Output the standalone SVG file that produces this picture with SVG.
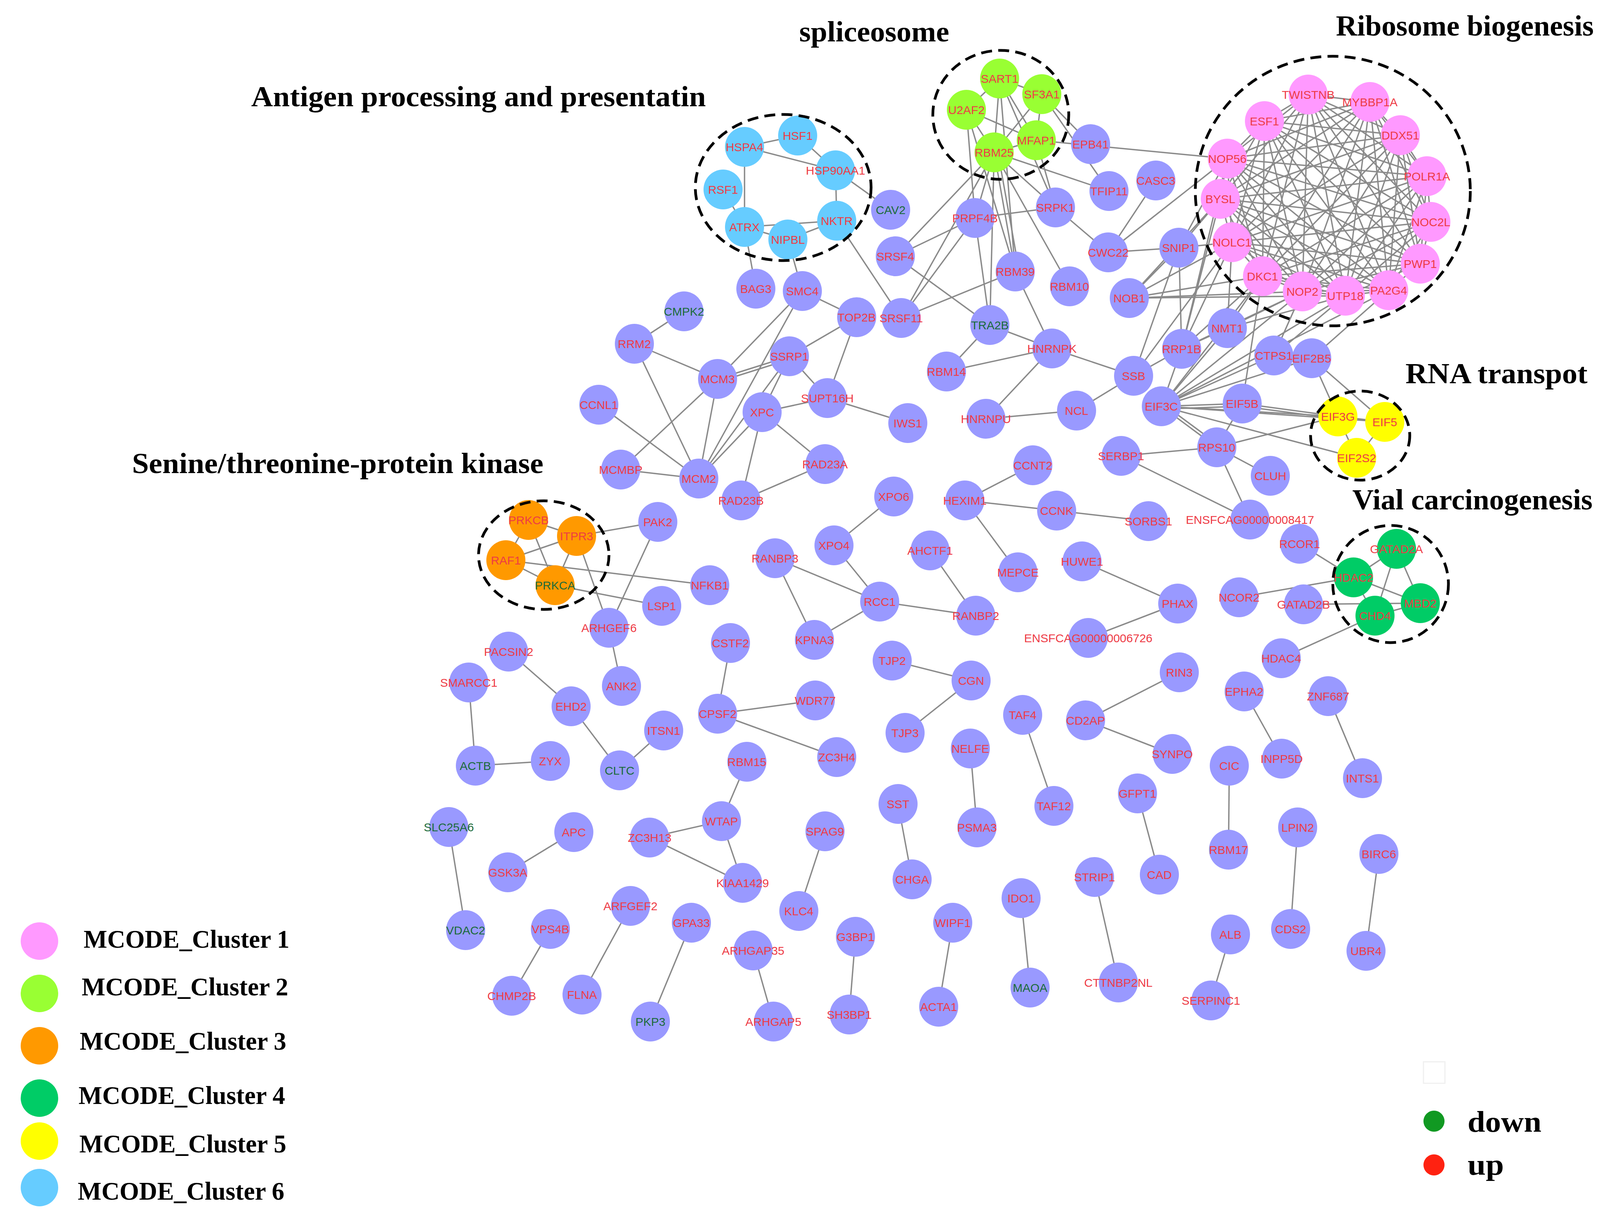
<svg xmlns="http://www.w3.org/2000/svg" width="4292" height="3123" viewBox="0 0 4292 3123">
<style>
.e line{stroke:#8a8a8a;stroke-width:3.5}
ellipse{stroke:none}
.n{fill:#9999FF}.c1{fill:#FF99FF}.c2{fill:#99FF33}.c3{fill:#FF9900}.c4{fill:#00CC66}.c5{fill:#FFFF00}.c6{fill:#66CCFF}
text.t{font-family:'Liberation Sans',Arial,sans-serif;font-size:30px;fill:#EE3B45;text-anchor:middle}
text.g{fill:#1B6B3A}
.d{fill:none;stroke:#000;stroke-width:7;stroke-dasharray:28 16}
.h{font-family:'Liberation Serif','Times New Roman',serif;font-weight:bold;fill:#000}
</style>
<rect width="4292" height="3123" fill="#fff"/>
<g id="titles">
<text class="h" x="643" y="272" font-size="74" textLength="1164" lengthAdjust="spacingAndGlyphs">Antigen processing and presentatin</text>
<text class="h" x="2046" y="106" font-size="74" textLength="384" lengthAdjust="spacingAndGlyphs">spliceosome</text>
<text class="h" x="3420" y="91" font-size="74" textLength="660" lengthAdjust="spacingAndGlyphs">Ribosome biogenesis</text>
<text class="h" x="338" y="1211" font-size="74" textLength="1053" lengthAdjust="spacingAndGlyphs">Senine/threonine-protein kinase</text>
<text class="h" x="3598" y="981" font-size="74" textLength="466" lengthAdjust="spacingAndGlyphs">RNA transpot</text>
<text class="h" x="3462" y="1304" font-size="74" textLength="615" lengthAdjust="spacingAndGlyphs">Vial carcinogenesis</text>
</g>
<g class="e" id="connectors">
<line x1="3349" y1="242" x2="3507" y2="261"/><line x1="3349" y1="242" x2="3237" y2="310"/><line x1="3349" y1="242" x2="3585" y2="346"/><line x1="3349" y1="242" x2="3142" y2="406"/><line x1="3349" y1="242" x2="3653" y2="451"/><line x1="3349" y1="242" x2="3124" y2="509"/><line x1="3349" y1="242" x2="3663" y2="568"/><line x1="3349" y1="242" x2="3154" y2="620"/><line x1="3349" y1="242" x2="3636" y2="675"/><line x1="3349" y1="242" x2="3232" y2="707"/><line x1="3349" y1="242" x2="3334" y2="746"/><line x1="3349" y1="242" x2="3444" y2="757"/><line x1="3349" y1="242" x2="3555" y2="743"/>
<line x1="3507" y1="261" x2="3237" y2="310"/><line x1="3507" y1="261" x2="3585" y2="346"/><line x1="3507" y1="261" x2="3142" y2="406"/><line x1="3507" y1="261" x2="3653" y2="451"/><line x1="3507" y1="261" x2="3124" y2="509"/><line x1="3507" y1="261" x2="3663" y2="568"/><line x1="3507" y1="261" x2="3154" y2="620"/><line x1="3507" y1="261" x2="3636" y2="675"/><line x1="3507" y1="261" x2="3232" y2="707"/><line x1="3507" y1="261" x2="3334" y2="746"/><line x1="3507" y1="261" x2="3444" y2="757"/><line x1="3507" y1="261" x2="3555" y2="743"/>
<line x1="3237" y1="310" x2="3585" y2="346"/><line x1="3237" y1="310" x2="3142" y2="406"/><line x1="3237" y1="310" x2="3653" y2="451"/><line x1="3237" y1="310" x2="3124" y2="509"/><line x1="3237" y1="310" x2="3663" y2="568"/><line x1="3237" y1="310" x2="3154" y2="620"/><line x1="3237" y1="310" x2="3636" y2="675"/><line x1="3237" y1="310" x2="3232" y2="707"/><line x1="3237" y1="310" x2="3334" y2="746"/><line x1="3237" y1="310" x2="3444" y2="757"/><line x1="3237" y1="310" x2="3555" y2="743"/>
<line x1="3585" y1="346" x2="3142" y2="406"/><line x1="3585" y1="346" x2="3653" y2="451"/><line x1="3585" y1="346" x2="3124" y2="509"/><line x1="3585" y1="346" x2="3663" y2="568"/><line x1="3585" y1="346" x2="3154" y2="620"/><line x1="3585" y1="346" x2="3636" y2="675"/><line x1="3585" y1="346" x2="3232" y2="707"/><line x1="3585" y1="346" x2="3334" y2="746"/><line x1="3585" y1="346" x2="3444" y2="757"/><line x1="3585" y1="346" x2="3555" y2="743"/>
<line x1="3142" y1="406" x2="3653" y2="451"/><line x1="3142" y1="406" x2="3124" y2="509"/><line x1="3142" y1="406" x2="3663" y2="568"/><line x1="3142" y1="406" x2="3154" y2="620"/><line x1="3142" y1="406" x2="3636" y2="675"/><line x1="3142" y1="406" x2="3232" y2="707"/><line x1="3142" y1="406" x2="3334" y2="746"/><line x1="3142" y1="406" x2="3444" y2="757"/><line x1="3142" y1="406" x2="3555" y2="743"/>
<line x1="3653" y1="451" x2="3124" y2="509"/><line x1="3653" y1="451" x2="3663" y2="568"/><line x1="3653" y1="451" x2="3154" y2="620"/><line x1="3653" y1="451" x2="3636" y2="675"/><line x1="3653" y1="451" x2="3232" y2="707"/><line x1="3653" y1="451" x2="3334" y2="746"/><line x1="3653" y1="451" x2="3444" y2="757"/><line x1="3653" y1="451" x2="3555" y2="743"/>
<line x1="3124" y1="509" x2="3663" y2="568"/><line x1="3124" y1="509" x2="3154" y2="620"/><line x1="3124" y1="509" x2="3636" y2="675"/><line x1="3124" y1="509" x2="3232" y2="707"/><line x1="3124" y1="509" x2="3334" y2="746"/><line x1="3124" y1="509" x2="3444" y2="757"/><line x1="3124" y1="509" x2="3555" y2="743"/>
<line x1="3663" y1="568" x2="3154" y2="620"/><line x1="3663" y1="568" x2="3636" y2="675"/><line x1="3663" y1="568" x2="3232" y2="707"/><line x1="3663" y1="568" x2="3334" y2="746"/><line x1="3663" y1="568" x2="3444" y2="757"/><line x1="3663" y1="568" x2="3555" y2="743"/>
<line x1="3154" y1="620" x2="3636" y2="675"/><line x1="3154" y1="620" x2="3232" y2="707"/><line x1="3154" y1="620" x2="3334" y2="746"/><line x1="3154" y1="620" x2="3444" y2="757"/><line x1="3154" y1="620" x2="3555" y2="743"/>
<line x1="3636" y1="675" x2="3232" y2="707"/><line x1="3636" y1="675" x2="3334" y2="746"/><line x1="3636" y1="675" x2="3444" y2="757"/><line x1="3636" y1="675" x2="3555" y2="743"/>
<line x1="3232" y1="707" x2="3334" y2="746"/><line x1="3232" y1="707" x2="3444" y2="757"/><line x1="3232" y1="707" x2="3555" y2="743"/>
<line x1="3334" y1="746" x2="3444" y2="757"/><line x1="3334" y1="746" x2="3555" y2="743"/><line x1="3444" y1="757" x2="3555" y2="743"/>
<line x1="1906" y1="376" x2="2042" y2="347"/><line x1="1906" y1="376" x2="2139" y2="436"/><line x1="2042" y1="347" x2="2139" y2="436"/><line x1="1906" y1="376" x2="1906" y2="581"/><line x1="2139" y1="436" x2="2142" y2="565"/><line x1="1851" y1="485" x2="1906" y2="581"/><line x1="1906" y1="581" x2="2017" y2="613"/><line x1="1906" y1="581" x2="2142" y2="565"/><line x1="2017" y1="613" x2="2142" y2="565"/><line x1="1906" y1="581" x2="1935" y2="739"/><line x1="2017" y1="613" x2="2054" y2="745"/><line x1="2139" y1="436" x2="2280" y2="537"/><line x1="2142" y1="565" x2="2307" y2="814"/>
<line x1="2559" y1="201" x2="2667" y2="241"/><line x1="2559" y1="201" x2="2474" y2="281"/><line x1="2559" y1="201" x2="2545" y2="390"/><line x1="2559" y1="201" x2="2653" y2="359"/><line x1="2559" y1="201" x2="2702" y2="531"/><line x1="2559" y1="201" x2="2599" y2="695"/><line x1="2474" y1="281" x2="2545" y2="390"/><line x1="2474" y1="281" x2="2653" y2="359"/><line x1="2474" y1="281" x2="2496" y2="558"/><line x1="2474" y1="281" x2="2599" y2="695"/><line x1="2545" y1="390" x2="2653" y2="359"/><line x1="2667" y1="241" x2="2653" y2="359"/><line x1="2667" y1="241" x2="2545" y2="390"/><line x1="2667" y1="241" x2="2792" y2="369"/><line x1="2667" y1="241" x2="2839" y2="489"/>
<line x1="2545" y1="390" x2="2496" y2="558"/><line x1="2545" y1="390" x2="2599" y2="695"/><line x1="2555" y1="392" x2="2609" y2="693"/><line x1="2545" y1="390" x2="2292" y2="656"/><line x1="2545" y1="390" x2="2307" y2="814"/><line x1="2545" y1="390" x2="2534" y2="832"/><line x1="2545" y1="390" x2="2702" y2="531"/><line x1="2545" y1="390" x2="2839" y2="489"/><line x1="2545" y1="390" x2="2738" y2="733"/><line x1="2653" y1="359" x2="2702" y2="531"/><line x1="2653" y1="359" x2="3142" y2="406"/>
<line x1="2496" y1="558" x2="2292" y2="656"/><line x1="2496" y1="558" x2="2702" y2="531"/><line x1="2496" y1="558" x2="2534" y2="832"/><line x1="2496" y1="558" x2="2307" y2="814"/><line x1="2702" y1="531" x2="2837" y2="646"/><line x1="2959" y1="462" x2="2837" y2="646"/><line x1="2837" y1="646" x2="3018" y2="634"/><line x1="2837" y1="646" x2="3142" y2="406"/><line x1="2292" y1="656" x2="2534" y2="832"/><line x1="2307" y1="814" x2="2599" y2="695"/><line x1="2599" y1="695" x2="2693" y2="892"/><line x1="2534" y1="832" x2="2693" y2="892"/><line x1="2534" y1="832" x2="2423" y2="951"/><line x1="2693" y1="892" x2="2423" y2="951"/><line x1="2693" y1="892" x2="2524" y2="1072"/><line x1="2693" y1="892" x2="2902" y2="962"/><line x1="2756" y1="1051" x2="2902" y2="962"/><line x1="2756" y1="1051" x2="2524" y2="1072"/><line x1="2902" y1="962" x2="3025" y2="893"/><line x1="2902" y1="962" x2="3018" y2="634"/><line x1="2902" y1="962" x2="3154" y2="620"/>
<line x1="2891" y1="763" x2="3124" y2="509"/><line x1="2891" y1="763" x2="3154" y2="620"/><line x1="2891" y1="763" x2="3232" y2="707"/><line x1="2891" y1="763" x2="3334" y2="746"/><line x1="2891" y1="763" x2="3444" y2="757"/><line x1="2891" y1="763" x2="3018" y2="634"/>
<line x1="3018" y1="634" x2="3124" y2="509"/><line x1="3018" y1="634" x2="3142" y2="406"/><line x1="3018" y1="634" x2="3154" y2="620"/>
<line x1="3025" y1="893" x2="3018" y2="634"/><line x1="3025" y1="893" x2="3124" y2="509"/><line x1="3025" y1="893" x2="3154" y2="620"/><line x1="3025" y1="893" x2="3142" y2="406"/><line x1="3025" y1="893" x2="3142" y2="840"/><line x1="3025" y1="893" x2="3232" y2="707"/><line x1="3025" y1="893" x2="3334" y2="746"/>
<line x1="3142" y1="840" x2="3334" y2="746"/><line x1="3142" y1="840" x2="3232" y2="707"/><line x1="3142" y1="840" x2="3154" y2="620"/><line x1="3142" y1="840" x2="3444" y2="757"/>
<line x1="2973" y1="1040" x2="3142" y2="840"/><line x1="2973" y1="1040" x2="3025" y2="893"/><line x1="2973" y1="1040" x2="3334" y2="746"/><line x1="2973" y1="1040" x2="3444" y2="757"/><line x1="2973" y1="1040" x2="3555" y2="743"/><line x1="2973" y1="1040" x2="3232" y2="707"/><line x1="2973" y1="1040" x2="3261" y2="910"/><line x1="2973" y1="1040" x2="3358" y2="917"/>
<line x1="2973" y1="1040" x2="3180" y2="1033"/><line x1="2973" y1="1047" x2="3180" y2="1040"/><line x1="2973" y1="1040" x2="3425" y2="1066"/><line x1="2973" y1="1040" x2="3545" y2="1080"/><line x1="2973" y1="1040" x2="3473" y2="1172"/><line x1="2973" y1="1040" x2="3115" y2="1145"/><line x1="2980" y1="1036" x2="3122" y2="1141"/>
<line x1="3334" y1="746" x2="3261" y2="910"/><line x1="3444" y1="757" x2="3261" y2="910"/><line x1="3232" y1="707" x2="3180" y2="1033"/><line x1="3555" y1="743" x2="3358" y2="917"/>
<line x1="3180" y1="1033" x2="3425" y2="1066"/><line x1="3180" y1="1040" x2="3425" y2="1072"/><line x1="3115" y1="1145" x2="3425" y2="1066"/><line x1="3115" y1="1145" x2="3180" y2="1033"/><line x1="3115" y1="1145" x2="3252" y2="1218"/><line x1="3115" y1="1145" x2="3200" y2="1330"/><line x1="2870" y1="1167" x2="3115" y2="1145"/><line x1="2870" y1="1167" x2="3200" y2="1330"/>
<line x1="3358" y1="917" x2="3425" y2="1066"/><line x1="3358" y1="917" x2="3545" y2="1080"/><line x1="3425" y1="1066" x2="3545" y2="1080"/><line x1="3425" y1="1066" x2="3473" y2="1172"/><line x1="3545" y1="1080" x2="3473" y2="1172"/>
<line x1="1353" y1="1331" x2="1476" y2="1372"/><line x1="1353" y1="1331" x2="1295" y2="1434"/><line x1="1353" y1="1331" x2="1421" y2="1498"/><line x1="1476" y1="1372" x2="1295" y2="1434"/><line x1="1476" y1="1372" x2="1421" y2="1498"/><line x1="1295" y1="1434" x2="1421" y2="1498"/><line x1="1476" y1="1372" x2="1684" y2="1336"/><line x1="1476" y1="1372" x2="1559" y2="1607"/><line x1="1295" y1="1434" x2="1817" y2="1498"/><line x1="1421" y1="1498" x2="1694" y2="1551"/><line x1="1684" y1="1336" x2="1559" y2="1607"/>
<line x1="1751" y1="797" x2="1624" y2="880"/><line x1="1624" y1="880" x2="1837" y2="970"/><line x1="1624" y1="880" x2="1789" y2="1225"/><line x1="1533" y1="1036" x2="1789" y2="1225"/><line x1="1589" y1="1202" x2="1789" y2="1225"/><line x1="1589" y1="1202" x2="1837" y2="970"/><line x1="1837" y1="970" x2="1789" y2="1225"/><line x1="1837" y1="970" x2="2021" y2="912"/><line x1="1837" y1="978" x2="2021" y2="920"/><line x1="1837" y1="970" x2="2054" y2="745"/><line x1="1789" y1="1225" x2="2054" y2="745"/><line x1="1789" y1="1225" x2="1951" y2="1055"/><line x1="1789" y1="1225" x2="2021" y2="912"/><line x1="1951" y1="1055" x2="2021" y2="912"/><line x1="1951" y1="1055" x2="2118" y2="1019"/><line x1="1951" y1="1055" x2="1897" y2="1281"/><line x1="1951" y1="1055" x2="2112" y2="1188"/><line x1="1897" y1="1281" x2="2112" y2="1188"/><line x1="2021" y1="912" x2="2118" y2="1019"/><line x1="2021" y1="912" x2="2193" y2="812"/><line x1="2054" y1="745" x2="2193" y2="812"/><line x1="2193" y1="812" x2="2118" y2="1019"/><line x1="2118" y1="1019" x2="2324" y2="1083"/>
<line x1="2288" y1="1271" x2="2135" y2="1396"/><line x1="2135" y1="1396" x2="2252" y2="1540"/><line x1="1984" y1="1429" x2="2252" y2="1540"/><line x1="1984" y1="1429" x2="2085" y2="1638"/><line x1="2252" y1="1540" x2="2085" y2="1638"/><line x1="2252" y1="1540" x2="2498" y2="1576"/><line x1="2381" y1="1409" x2="2498" y2="1576"/><line x1="2470" y1="1281" x2="2644" y2="1191"/><line x1="2470" y1="1281" x2="2705" y2="1307"/><line x1="2470" y1="1281" x2="2606" y2="1465"/><line x1="2705" y1="1307" x2="2940" y2="1334"/><line x1="2770" y1="1437" x2="3015" y2="1545"/><line x1="3015" y1="1545" x2="2786" y2="1633"/>
<line x1="3327" y1="1392" x2="3465" y2="1478"/><line x1="3172" y1="1529" x2="3465" y2="1478"/><line x1="3337" y1="1547" x2="3636" y2="1544"/><line x1="3465" y1="1478" x2="3575" y2="1405"/><line x1="3465" y1="1478" x2="3636" y2="1544"/><line x1="3465" y1="1478" x2="3520" y2="1576"/><line x1="3575" y1="1405" x2="3520" y2="1576"/><line x1="3575" y1="1405" x2="3636" y2="1544"/><line x1="3520" y1="1576" x2="3636" y2="1544"/><line x1="3520" y1="1576" x2="3280" y2="1685"/>
<line x1="1302" y1="1668" x2="1462" y2="1808"/><line x1="1462" y1="1808" x2="1586" y2="1972"/><line x1="1586" y1="1972" x2="1699" y2="1870"/><line x1="1200" y1="1747" x2="1217" y2="1960"/><line x1="1217" y1="1960" x2="1409" y2="1948"/><line x1="1559" y1="1607" x2="1591" y2="1756"/><line x1="1870" y1="1646" x2="1837" y2="1827"/><line x1="1837" y1="1827" x2="2087" y2="1793"/><line x1="1837" y1="1827" x2="2142" y2="1938"/><line x1="1912" y1="1950" x2="1847" y2="2102"/><line x1="1847" y1="2102" x2="1663" y2="2144"/><line x1="1847" y1="2102" x2="1901" y2="2260"/><line x1="1663" y1="2144" x2="1901" y2="2260"/><line x1="1149" y1="2117" x2="1192" y2="2381"/><line x1="1469" y1="2130" x2="1300" y2="2233"/><line x1="2112" y1="2128" x2="2045" y2="2332"/><line x1="1409" y1="2378" x2="1310" y2="2549"/><line x1="1614" y1="2319" x2="1490" y2="2546"/><line x1="1770" y1="2362" x2="1665" y2="2615"/><line x1="1928" y1="2433" x2="1980" y2="2615"/>
<line x1="2190" y1="2398" x2="2174" y2="2597"/><line x1="2439" y1="2362" x2="2403" y2="2577"/><line x1="2614" y1="2299" x2="2637" y2="2528"/><line x1="2802" y1="2245" x2="2863" y2="2515"/><line x1="3150" y1="2392" x2="3100" y2="2561"/><line x1="2284" y1="1691" x2="2486" y2="1742"/><line x1="2486" y1="1742" x2="2317" y2="1876"/><line x1="2618" y1="1830" x2="2698" y2="2063"/><line x1="2484" y1="1916" x2="2501" y2="2118"/><line x1="2299" y1="2058" x2="2335" y2="2251"/><line x1="2912" y1="2031" x2="2968" y2="2239"/><line x1="2779" y1="1844" x2="3019" y2="1721"/><line x1="2779" y1="1844" x2="3001" y2="1930"/><line x1="3147" y1="1960" x2="3145" y2="2175"/><line x1="3185" y1="1770" x2="3281" y2="1942"/><line x1="3400" y1="1782" x2="3488" y2="1992"/><line x1="3322" y1="2118" x2="3304" y2="2378"/><line x1="3530" y1="2186" x2="3497" y2="2434"/>
</g>
<g id="nodes">
<g id="HSPA4"><ellipse class="c6" cx="1906" cy="376" rx="50" ry="51"/><text class="t" x="1906" y="387">HSPA4</text></g>
<g id="HSF1"><ellipse class="c6" cx="2042" cy="347" rx="50" ry="51"/><text class="t" x="2042" y="358">HSF1</text></g>
<g id="HSP90AA1"><ellipse class="c6" cx="2139" cy="436" rx="50" ry="51"/><text class="t" x="2139" y="447">HSP90AA1</text></g>
<g id="RSF1"><ellipse class="c6" cx="1851" cy="485" rx="50" ry="51"/><text class="t" x="1851" y="496">RSF1</text></g>
<g id="ATRX"><ellipse class="c6" cx="1906" cy="581" rx="50" ry="51"/><text class="t" x="1906" y="592">ATRX</text></g>
<g id="NIPBL"><ellipse class="c6" cx="2017" cy="613" rx="50" ry="51"/><text class="t" x="2017" y="624">NIPBL</text></g>
<g id="NKTR"><ellipse class="c6" cx="2142" cy="565" rx="50" ry="51"/><text class="t" x="2142" y="576">NKTR</text></g>
<g id="SART1"><ellipse class="c2" cx="2559" cy="201" rx="50" ry="51"/><text class="t" x="2559" y="212">SART1</text></g>
<g id="SF3A1"><ellipse class="c2" cx="2667" cy="241" rx="50" ry="51"/><text class="t" x="2667" y="252">SF3A1</text></g>
<g id="U2AF2"><ellipse class="c2" cx="2474" cy="281" rx="50" ry="51"/><text class="t" x="2474" y="292">U2AF2</text></g>
<g id="MFAP1"><ellipse class="c2" cx="2653" cy="359" rx="50" ry="51"/><text class="t" x="2653" y="370">MFAP1</text></g>
<g id="RBM25"><ellipse class="c2" cx="2545" cy="390" rx="50" ry="51"/><text class="t" x="2545" y="401">RBM25</text></g>
<g id="TWISTNB"><ellipse class="c1" cx="3349" cy="242" rx="50" ry="51"/><text class="t" x="3349" y="253">TWISTNB</text></g>
<g id="MYBBP1A"><ellipse class="c1" cx="3507" cy="261" rx="50" ry="51"/><text class="t" x="3507" y="272">MYBBP1A</text></g>
<g id="ESF1"><ellipse class="c1" cx="3237" cy="310" rx="50" ry="51"/><text class="t" x="3237" y="321">ESF1</text></g>
<g id="DDX51"><ellipse class="c1" cx="3585" cy="346" rx="50" ry="51"/><text class="t" x="3585" y="357">DDX51</text></g>
<g id="NOP56"><ellipse class="c1" cx="3142" cy="406" rx="50" ry="51"/><text class="t" x="3142" y="417">NOP56</text></g>
<g id="POLR1A"><ellipse class="c1" cx="3653" cy="451" rx="50" ry="51"/><text class="t" x="3653" y="462">POLR1A</text></g>
<g id="BYSL"><ellipse class="c1" cx="3124" cy="509" rx="50" ry="51"/><text class="t" x="3124" y="520">BYSL</text></g>
<g id="NOC2L"><ellipse class="c1" cx="3663" cy="568" rx="50" ry="51"/><text class="t" x="3663" y="579">NOC2L</text></g>
<g id="NOLC1"><ellipse class="c1" cx="3154" cy="620" rx="50" ry="51"/><text class="t" x="3154" y="631">NOLC1</text></g>
<g id="PWP1"><ellipse class="c1" cx="3636" cy="675" rx="50" ry="51"/><text class="t" x="3636" y="686">PWP1</text></g>
<g id="DKC1"><ellipse class="c1" cx="3232" cy="707" rx="50" ry="51"/><text class="t" x="3232" y="718">DKC1</text></g>
<g id="NOP2"><ellipse class="c1" cx="3334" cy="746" rx="50" ry="51"/><text class="t" x="3334" y="757">NOP2</text></g>
<g id="UTP18"><ellipse class="c1" cx="3444" cy="757" rx="50" ry="51"/><text class="t" x="3444" y="768">UTP18</text></g>
<g id="PA2G4"><ellipse class="c1" cx="3555" cy="743" rx="50" ry="51"/><text class="t" x="3555" y="754">PA2G4</text></g>
<g id="PRKCB"><ellipse class="c3" cx="1353" cy="1331" rx="50" ry="51"/><text class="t" x="1353" y="1342">PRKCB</text></g>
<g id="ITPR3"><ellipse class="c3" cx="1476" cy="1372" rx="50" ry="51"/><text class="t" x="1476" y="1383">ITPR3</text></g>
<g id="RAF1"><ellipse class="c3" cx="1295" cy="1434" rx="50" ry="51"/><text class="t" x="1295" y="1445">RAF1</text></g>
<g id="PRKCA"><ellipse class="c3" cx="1421" cy="1498" rx="50" ry="51"/><text class="t g" x="1421" y="1509">PRKCA</text></g>
<g id="EIF3G"><ellipse class="c5" cx="3425" cy="1066" rx="50" ry="51"/><text class="t" x="3425" y="1077">EIF3G</text></g>
<g id="EIF5"><ellipse class="c5" cx="3545" cy="1080" rx="50" ry="51"/><text class="t" x="3545" y="1091">EIF5</text></g>
<g id="EIF2S2"><ellipse class="c5" cx="3473" cy="1172" rx="50" ry="51"/><text class="t" x="3473" y="1183">EIF2S2</text></g>
<g id="GATAD2A"><ellipse class="c4" cx="3575" cy="1405" rx="50" ry="51"/><text class="t" x="3575" y="1416">GATAD2A</text></g>
<g id="HDAC2"><ellipse class="c4" cx="3465" cy="1478" rx="50" ry="51"/><text class="t" x="3465" y="1489">HDAC2</text></g>
<g id="MBD2"><ellipse class="c4" cx="3636" cy="1544" rx="50" ry="51"/><text class="t" x="3636" y="1555">MBD2</text></g>
<g id="CHD4"><ellipse class="c4" cx="3520" cy="1576" rx="50" ry="51"/><text class="t" x="3520" y="1587">CHD4</text></g>
<g id="EPB41"><ellipse class="n" cx="2792" cy="369" rx="50" ry="51"/><text class="t" x="2792" y="380">EPB41</text></g>
<g id="CAV2"><ellipse class="n" cx="2280" cy="537" rx="50" ry="51"/><text class="t g" x="2280" y="548">CAV2</text></g>
<g id="PRPF4B"><ellipse class="n" cx="2496" cy="558" rx="50" ry="51"/><text class="t" x="2496" y="569">PRPF4B</text></g>
<g id="SRPK1"><ellipse class="n" cx="2702" cy="531" rx="50" ry="51"/><text class="t" x="2702" y="542">SRPK1</text></g>
<g id="TFIP11"><ellipse class="n" cx="2839" cy="489" rx="50" ry="51"/><text class="t" x="2839" y="500">TFIP11</text></g>
<g id="CASC3"><ellipse class="n" cx="2959" cy="462" rx="50" ry="51"/><text class="t" x="2959" y="473">CASC3</text></g>
<g id="SRSF4"><ellipse class="n" cx="2292" cy="656" rx="50" ry="51"/><text class="t" x="2292" y="667">SRSF4</text></g>
<g id="RBM39"><ellipse class="n" cx="2599" cy="695" rx="50" ry="51"/><text class="t" x="2599" y="706">RBM39</text></g>
<g id="RBM10"><ellipse class="n" cx="2738" cy="733" rx="50" ry="51"/><text class="t" x="2738" y="744">RBM10</text></g>
<g id="CWC22"><ellipse class="n" cx="2837" cy="646" rx="50" ry="51"/><text class="t" x="2837" y="657">CWC22</text></g>
<g id="SNIP1"><ellipse class="n" cx="3018" cy="634" rx="50" ry="51"/><text class="t" x="3018" y="645">SNIP1</text></g>
<g id="NOB1"><ellipse class="n" cx="2891" cy="763" rx="50" ry="51"/><text class="t" x="2891" y="774">NOB1</text></g>
<g id="BAG3"><ellipse class="n" cx="1935" cy="739" rx="50" ry="51"/><text class="t" x="1935" y="750">BAG3</text></g>
<g id="SMC4"><ellipse class="n" cx="2054" cy="745" rx="50" ry="51"/><text class="t" x="2054" y="756">SMC4</text></g>
<g id="CMPK2"><ellipse class="n" cx="1751" cy="797" rx="50" ry="51"/><text class="t g" x="1751" y="808">CMPK2</text></g>
<g id="RRM2"><ellipse class="n" cx="1624" cy="880" rx="50" ry="51"/><text class="t" x="1624" y="891">RRM2</text></g>
<g id="TOP2B"><ellipse class="n" cx="2193" cy="812" rx="50" ry="51"/><text class="t" x="2193" y="823">TOP2B</text></g>
<g id="SRSF11"><ellipse class="n" cx="2307" cy="814" rx="50" ry="51"/><text class="t" x="2307" y="825">SRSF11</text></g>
<g id="TRA2B"><ellipse class="n" cx="2534" cy="832" rx="50" ry="51"/><text class="t g" x="2534" y="843">TRA2B</text></g>
<g id="HNRNPK"><ellipse class="n" cx="2693" cy="892" rx="50" ry="51"/><text class="t" x="2693" y="903">HNRNPK</text></g>
<g id="NMT1"><ellipse class="n" cx="3142" cy="840" rx="50" ry="51"/><text class="t" x="3142" y="851">NMT1</text></g>
<g id="RRP1B"><ellipse class="n" cx="3025" cy="893" rx="50" ry="51"/><text class="t" x="3025" y="904">RRP1B</text></g>
<g id="CTPS1"><ellipse class="n" cx="3261" cy="910" rx="50" ry="51"/><text class="t" x="3261" y="921">CTPS1</text></g>
<g id="EIF2B5"><ellipse class="n" cx="3358" cy="917" rx="50" ry="51"/><text class="t" x="3358" y="928">EIF2B5</text></g>
<g id="MCM3"><ellipse class="n" cx="1837" cy="970" rx="50" ry="51"/><text class="t" x="1837" y="981">MCM3</text></g>
<g id="SSRP1"><ellipse class="n" cx="2021" cy="912" rx="50" ry="51"/><text class="t" x="2021" y="923">SSRP1</text></g>
<g id="RBM14"><ellipse class="n" cx="2423" cy="951" rx="50" ry="51"/><text class="t" x="2423" y="962">RBM14</text></g>
<g id="SSB"><ellipse class="n" cx="2902" cy="962" rx="50" ry="51"/><text class="t" x="2902" y="973">SSB</text></g>
<g id="CCNL1"><ellipse class="n" cx="1533" cy="1036" rx="50" ry="51"/><text class="t" x="1533" y="1047">CCNL1</text></g>
<g id="XPC"><ellipse class="n" cx="1951" cy="1055" rx="50" ry="51"/><text class="t" x="1951" y="1066">XPC</text></g>
<g id="SUPT16H"><ellipse class="n" cx="2118" cy="1019" rx="50" ry="51"/><text class="t" x="2118" y="1030">SUPT16H</text></g>
<g id="IWS1"><ellipse class="n" cx="2324" cy="1083" rx="50" ry="51"/><text class="t" x="2324" y="1094">IWS1</text></g>
<g id="HNRNPU"><ellipse class="n" cx="2524" cy="1072" rx="50" ry="51"/><text class="t" x="2524" y="1083">HNRNPU</text></g>
<g id="NCL"><ellipse class="n" cx="2756" cy="1051" rx="50" ry="51"/><text class="t" x="2756" y="1062">NCL</text></g>
<g id="EIF3C"><ellipse class="n" cx="2973" cy="1040" rx="50" ry="51"/><text class="t" x="2973" y="1051">EIF3C</text></g>
<g id="EIF5B"><ellipse class="n" cx="3180" cy="1033" rx="50" ry="51"/><text class="t" x="3180" y="1044">EIF5B</text></g>
<g id="RPS10"><ellipse class="n" cx="3115" cy="1145" rx="50" ry="51"/><text class="t" x="3115" y="1156">RPS10</text></g>
<g id="SERBP1"><ellipse class="n" cx="2870" cy="1167" rx="50" ry="51"/><text class="t" x="2870" y="1178">SERBP1</text></g>
<g id="CLUH"><ellipse class="n" cx="3252" cy="1218" rx="50" ry="51"/><text class="t" x="3252" y="1229">CLUH</text></g>
<g id="MCMBP"><ellipse class="n" cx="1589" cy="1202" rx="50" ry="51"/><text class="t" x="1589" y="1213">MCMBP</text></g>
<g id="MCM2"><ellipse class="n" cx="1789" cy="1225" rx="50" ry="51"/><text class="t" x="1789" y="1236">MCM2</text></g>
<g id="RAD23B"><ellipse class="n" cx="1897" cy="1281" rx="50" ry="51"/><text class="t" x="1897" y="1292">RAD23B</text></g>
<g id="RAD23A"><ellipse class="n" cx="2112" cy="1188" rx="50" ry="51"/><text class="t" x="2112" y="1199">RAD23A</text></g>
<g id="CCNT2"><ellipse class="n" cx="2644" cy="1191" rx="50" ry="51"/><text class="t" x="2644" y="1202">CCNT2</text></g>
<g id="XPO6"><ellipse class="n" cx="2288" cy="1271" rx="50" ry="51"/><text class="t" x="2288" y="1282">XPO6</text></g>
<g id="HEXIM1"><ellipse class="n" cx="2470" cy="1281" rx="50" ry="51"/><text class="t" x="2470" y="1292">HEXIM1</text></g>
<g id="CCNK"><ellipse class="n" cx="2705" cy="1307" rx="50" ry="51"/><text class="t" x="2705" y="1318">CCNK</text></g>
<g id="SORBS1"><ellipse class="n" cx="2940" cy="1334" rx="50" ry="51"/><text class="t" x="2940" y="1345">SORBS1</text></g>
<g id="ENSFCAG00000008417"><ellipse class="n" cx="3200" cy="1330" rx="50" ry="51"/><text class="t" x="3200" y="1341">ENSFCAG00000008417</text></g>
<g id="PAK2"><ellipse class="n" cx="1684" cy="1336" rx="50" ry="51"/><text class="t" x="1684" y="1347">PAK2</text></g>
<g id="RCOR1"><ellipse class="n" cx="3327" cy="1392" rx="50" ry="51"/><text class="t" x="3327" y="1403">RCOR1</text></g>
<g id="XPO4"><ellipse class="n" cx="2135" cy="1396" rx="50" ry="51"/><text class="t" x="2135" y="1407">XPO4</text></g>
<g id="AHCTF1"><ellipse class="n" cx="2381" cy="1409" rx="50" ry="51"/><text class="t" x="2381" y="1420">AHCTF1</text></g>
<g id="HUWE1"><ellipse class="n" cx="2770" cy="1437" rx="50" ry="51"/><text class="t" x="2770" y="1448">HUWE1</text></g>
<g id="MEPCE"><ellipse class="n" cx="2606" cy="1465" rx="50" ry="51"/><text class="t" x="2606" y="1476">MEPCE</text></g>
<g id="RANBP3"><ellipse class="n" cx="1984" cy="1429" rx="50" ry="51"/><text class="t" x="1984" y="1440">RANBP3</text></g>
<g id="NFKB1"><ellipse class="n" cx="1817" cy="1498" rx="50" ry="51"/><text class="t" x="1817" y="1509">NFKB1</text></g>
<g id="LSP1"><ellipse class="n" cx="1694" cy="1551" rx="50" ry="51"/><text class="t" x="1694" y="1562">LSP1</text></g>
<g id="RCC1"><ellipse class="n" cx="2252" cy="1540" rx="50" ry="51"/><text class="t" x="2252" y="1551">RCC1</text></g>
<g id="PHAX"><ellipse class="n" cx="3015" cy="1545" rx="50" ry="51"/><text class="t" x="3015" y="1556">PHAX</text></g>
<g id="RANBP2"><ellipse class="n" cx="2498" cy="1576" rx="50" ry="51"/><text class="t" x="2498" y="1587">RANBP2</text></g>
<g id="NCOR2"><ellipse class="n" cx="3172" cy="1529" rx="50" ry="51"/><text class="t" x="3172" y="1540">NCOR2</text></g>
<g id="GATAD2B"><ellipse class="n" cx="3337" cy="1547" rx="50" ry="51"/><text class="t" x="3337" y="1558">GATAD2B</text></g>
<g id="ARHGEF6"><ellipse class="n" cx="1559" cy="1607" rx="50" ry="51"/><text class="t" x="1559" y="1618">ARHGEF6</text></g>
<g id="ENSFCAG00000006726"><ellipse class="n" cx="2786" cy="1633" rx="50" ry="51"/><text class="t" x="2786" y="1644">ENSFCAG00000006726</text></g>
<g id="KPNA3"><ellipse class="n" cx="2085" cy="1638" rx="50" ry="51"/><text class="t" x="2085" y="1649">KPNA3</text></g>
<g id="CSTF2"><ellipse class="n" cx="1870" cy="1646" rx="50" ry="51"/><text class="t" x="1870" y="1657">CSTF2</text></g>
<g id="PACSIN2"><ellipse class="n" cx="1302" cy="1668" rx="50" ry="51"/><text class="t" x="1302" y="1679">PACSIN2</text></g>
<g id="HDAC4"><ellipse class="n" cx="3280" cy="1685" rx="50" ry="51"/><text class="t" x="3280" y="1696">HDAC4</text></g>
<g id="TJP2"><ellipse class="n" cx="2284" cy="1691" rx="50" ry="51"/><text class="t" x="2284" y="1702">TJP2</text></g>
<g id="RIN3"><ellipse class="n" cx="3019" cy="1721" rx="50" ry="51"/><text class="t" x="3019" y="1732">RIN3</text></g>
<g id="CGN"><ellipse class="n" cx="2486" cy="1742" rx="50" ry="51"/><text class="t" x="2486" y="1753">CGN</text></g>
<g id="SMARCC1"><ellipse class="n" cx="1200" cy="1747" rx="50" ry="51"/><text class="t" x="1200" y="1758">SMARCC1</text></g>
<g id="ANK2"><ellipse class="n" cx="1591" cy="1756" rx="50" ry="51"/><text class="t" x="1591" y="1767">ANK2</text></g>
<g id="EPHA2"><ellipse class="n" cx="3185" cy="1770" rx="50" ry="51"/><text class="t" x="3185" y="1781">EPHA2</text></g>
<g id="ZNF687"><ellipse class="n" cx="3400" cy="1782" rx="50" ry="51"/><text class="t" x="3400" y="1793">ZNF687</text></g>
<g id="WDR77"><ellipse class="n" cx="2087" cy="1793" rx="50" ry="51"/><text class="t" x="2087" y="1804">WDR77</text></g>
<g id="EHD2"><ellipse class="n" cx="1462" cy="1808" rx="50" ry="51"/><text class="t" x="1462" y="1819">EHD2</text></g>
<g id="CPSF2"><ellipse class="n" cx="1837" cy="1827" rx="50" ry="51"/><text class="t" x="1837" y="1838">CPSF2</text></g>
<g id="TAF4"><ellipse class="n" cx="2618" cy="1830" rx="50" ry="51"/><text class="t" x="2618" y="1841">TAF4</text></g>
<g id="CD2AP"><ellipse class="n" cx="2779" cy="1844" rx="50" ry="51"/><text class="t" x="2779" y="1855">CD2AP</text></g>
<g id="ITSN1"><ellipse class="n" cx="1699" cy="1870" rx="50" ry="51"/><text class="t" x="1699" y="1881">ITSN1</text></g>
<g id="TJP3"><ellipse class="n" cx="2317" cy="1876" rx="50" ry="51"/><text class="t" x="2317" y="1887">TJP3</text></g>
<g id="NELFE"><ellipse class="n" cx="2484" cy="1916" rx="50" ry="51"/><text class="t" x="2484" y="1927">NELFE</text></g>
<g id="SYNPO"><ellipse class="n" cx="3001" cy="1930" rx="50" ry="51"/><text class="t" x="3001" y="1941">SYNPO</text></g>
<g id="ZC3H4"><ellipse class="n" cx="2142" cy="1938" rx="50" ry="51"/><text class="t" x="2142" y="1949">ZC3H4</text></g>
<g id="INPP5D"><ellipse class="n" cx="3281" cy="1942" rx="50" ry="51"/><text class="t" x="3281" y="1953">INPP5D</text></g>
<g id="ZYX"><ellipse class="n" cx="1409" cy="1948" rx="50" ry="51"/><text class="t" x="1409" y="1959">ZYX</text></g>
<g id="RBM15"><ellipse class="n" cx="1912" cy="1950" rx="50" ry="51"/><text class="t" x="1912" y="1961">RBM15</text></g>
<g id="ACTB"><ellipse class="n" cx="1217" cy="1960" rx="50" ry="51"/><text class="t g" x="1217" y="1971">ACTB</text></g>
<g id="CIC"><ellipse class="n" cx="3147" cy="1960" rx="50" ry="51"/><text class="t" x="3147" y="1971">CIC</text></g>
<g id="CLTC"><ellipse class="n" cx="1586" cy="1972" rx="50" ry="51"/><text class="t g" x="1586" y="1983">CLTC</text></g>
<g id="INTS1"><ellipse class="n" cx="3488" cy="1992" rx="50" ry="51"/><text class="t" x="3488" y="2003">INTS1</text></g>
<g id="GFPT1"><ellipse class="n" cx="2912" cy="2031" rx="50" ry="51"/><text class="t" x="2912" y="2042">GFPT1</text></g>
<g id="SST"><ellipse class="n" cx="2299" cy="2058" rx="50" ry="51"/><text class="t" x="2299" y="2069">SST</text></g>
<g id="TAF12"><ellipse class="n" cx="2698" cy="2063" rx="50" ry="51"/><text class="t" x="2698" y="2074">TAF12</text></g>
<g id="WTAP"><ellipse class="n" cx="1847" cy="2102" rx="50" ry="51"/><text class="t" x="1847" y="2113">WTAP</text></g>
<g id="SLC25A6"><ellipse class="n" cx="1149" cy="2117" rx="50" ry="51"/><text class="t g" x="1149" y="2128">SLC25A6</text></g>
<g id="PSMA3"><ellipse class="n" cx="2501" cy="2118" rx="50" ry="51"/><text class="t" x="2501" y="2129">PSMA3</text></g>
<g id="LPIN2"><ellipse class="n" cx="3322" cy="2118" rx="50" ry="51"/><text class="t" x="3322" y="2129">LPIN2</text></g>
<g id="SPAG9"><ellipse class="n" cx="2112" cy="2128" rx="50" ry="51"/><text class="t" x="2112" y="2139">SPAG9</text></g>
<g id="APC"><ellipse class="n" cx="1469" cy="2130" rx="50" ry="51"/><text class="t" x="1469" y="2141">APC</text></g>
<g id="ZC3H13"><ellipse class="n" cx="1663" cy="2144" rx="50" ry="51"/><text class="t" x="1663" y="2155">ZC3H13</text></g>
<g id="RBM17"><ellipse class="n" cx="3145" cy="2175" rx="50" ry="51"/><text class="t" x="3145" y="2186">RBM17</text></g>
<g id="BIRC6"><ellipse class="n" cx="3530" cy="2186" rx="50" ry="51"/><text class="t" x="3530" y="2197">BIRC6</text></g>
<g id="GSK3A"><ellipse class="n" cx="1300" cy="2233" rx="50" ry="51"/><text class="t" x="1300" y="2244">GSK3A</text></g>
<g id="CAD"><ellipse class="n" cx="2968" cy="2239" rx="50" ry="51"/><text class="t" x="2968" y="2250">CAD</text></g>
<g id="STRIP1"><ellipse class="n" cx="2802" cy="2245" rx="50" ry="51"/><text class="t" x="2802" y="2256">STRIP1</text></g>
<g id="CHGA"><ellipse class="n" cx="2335" cy="2251" rx="50" ry="51"/><text class="t" x="2335" y="2262">CHGA</text></g>
<g id="KIAA1429"><ellipse class="n" cx="1901" cy="2260" rx="50" ry="51"/><text class="t" x="1901" y="2271">KIAA1429</text></g>
<g id="IDO1"><ellipse class="n" cx="2614" cy="2299" rx="50" ry="51"/><text class="t" x="2614" y="2310">IDO1</text></g>
<g id="ARFGEF2"><ellipse class="n" cx="1614" cy="2319" rx="50" ry="51"/><text class="t" x="1614" y="2330">ARFGEF2</text></g>
<g id="KLC4"><ellipse class="n" cx="2045" cy="2332" rx="50" ry="51"/><text class="t" x="2045" y="2343">KLC4</text></g>
<g id="GPA33"><ellipse class="n" cx="1770" cy="2362" rx="50" ry="51"/><text class="t" x="1770" y="2373">GPA33</text></g>
<g id="WIPF1"><ellipse class="n" cx="2439" cy="2362" rx="50" ry="51"/><text class="t" x="2439" y="2373">WIPF1</text></g>
<g id="VPS4B"><ellipse class="n" cx="1409" cy="2378" rx="50" ry="51"/><text class="t" x="1409" y="2389">VPS4B</text></g>
<g id="CDS2"><ellipse class="n" cx="3304" cy="2378" rx="50" ry="51"/><text class="t" x="3304" y="2389">CDS2</text></g>
<g id="VDAC2"><ellipse class="n" cx="1192" cy="2381" rx="50" ry="51"/><text class="t g" x="1192" y="2392">VDAC2</text></g>
<g id="ALB"><ellipse class="n" cx="3150" cy="2392" rx="50" ry="51"/><text class="t" x="3150" y="2403">ALB</text></g>
<g id="G3BP1"><ellipse class="n" cx="2190" cy="2398" rx="50" ry="51"/><text class="t" x="2190" y="2409">G3BP1</text></g>
<g id="ARHGAP35"><ellipse class="n" cx="1928" cy="2433" rx="50" ry="51"/><text class="t" x="1928" y="2444">ARHGAP35</text></g>
<g id="UBR4"><ellipse class="n" cx="3497" cy="2434" rx="50" ry="51"/><text class="t" x="3497" y="2445">UBR4</text></g>
<g id="CTTNBP2NL"><ellipse class="n" cx="2863" cy="2515" rx="50" ry="51"/><text class="t" x="2863" y="2526">CTTNBP2NL</text></g>
<g id="MAOA"><ellipse class="n" cx="2637" cy="2528" rx="50" ry="51"/><text class="t g" x="2637" y="2539">MAOA</text></g>
<g id="FLNA"><ellipse class="n" cx="1490" cy="2546" rx="50" ry="51"/><text class="t" x="1490" y="2557">FLNA</text></g>
<g id="CHMP2B"><ellipse class="n" cx="1310" cy="2549" rx="50" ry="51"/><text class="t" x="1310" y="2560">CHMP2B</text></g>
<g id="SERPINC1"><ellipse class="n" cx="3100" cy="2561" rx="50" ry="51"/><text class="t" x="3100" y="2572">SERPINC1</text></g>
<g id="ACTA1"><ellipse class="n" cx="2403" cy="2577" rx="50" ry="51"/><text class="t" x="2403" y="2588">ACTA1</text></g>
<g id="SH3BP1"><ellipse class="n" cx="2174" cy="2597" rx="50" ry="51"/><text class="t" x="2174" y="2608">SH3BP1</text></g>
<g id="PKP3"><ellipse class="n" cx="1665" cy="2615" rx="50" ry="51"/><text class="t g" x="1665" y="2626">PKP3</text></g>
<g id="ARHGAP5"><ellipse class="n" cx="1980" cy="2615" rx="50" ry="51"/><text class="t" x="1980" y="2626">ARHGAP5</text></g>
</g>
<g id="cluster-outlines">
<ellipse class="d" cx="2005" cy="480" rx="225" ry="187"/>
<ellipse class="d" cx="2562" cy="294" rx="174" ry="165"/>
<ellipse class="d" cx="3412" cy="489" rx="352" ry="345"/>
<ellipse class="d" cx="1392" cy="1421" rx="167" ry="139"/>
<ellipse class="d" cx="3482" cy="1115" rx="127" ry="114"/>
<ellipse class="d" cx="3560" cy="1495" rx="148" ry="150"/>
</g>
<g id="legend">
<circle cx="101" cy="2409" r="48" fill="#FF99FF"/>
<circle cx="101" cy="2543" r="48" fill="#99FF33"/>
<circle cx="101" cy="2677" r="48" fill="#FF9900"/>
<circle cx="101" cy="2811" r="48" fill="#00CC66"/>
<circle cx="101" cy="2921" r="48" fill="#FFFF00"/>
<circle cx="101" cy="3040" r="48" fill="#66CCFF"/>
<text class="h" x="214" y="2426" font-size="66" textLength="527" lengthAdjust="spacingAndGlyphs">MCODE_Cluster 1</text>
<text class="h" x="209" y="2548" font-size="66" textLength="529" lengthAdjust="spacingAndGlyphs">MCODE_Cluster 2</text>
<text class="h" x="204" y="2687" font-size="66" textLength="529" lengthAdjust="spacingAndGlyphs">MCODE_Cluster 3</text>
<text class="h" x="201" y="2826" font-size="66" textLength="529" lengthAdjust="spacingAndGlyphs">MCODE_Cluster 4</text>
<text class="h" x="203" y="2950" font-size="66" textLength="530" lengthAdjust="spacingAndGlyphs">MCODE_Cluster 5</text>
<text class="h" x="199" y="3071" font-size="66" textLength="529" lengthAdjust="spacingAndGlyphs">MCODE_Cluster 6</text>
<rect x="3644" y="2718" width="55" height="55" fill="none" stroke="#f0f0f0" stroke-width="3"/>
<circle cx="3671" cy="2870" r="27" fill="#119922"/>
<circle cx="3671" cy="2982" r="27" fill="#FF2211"/>
<text class="h" x="3757" y="2897" font-size="76" textLength="189" lengthAdjust="spacingAndGlyphs">down</text>
<text class="h" x="3757" y="3007" font-size="76" textLength="93" lengthAdjust="spacingAndGlyphs">up</text>
</g>
</svg>
